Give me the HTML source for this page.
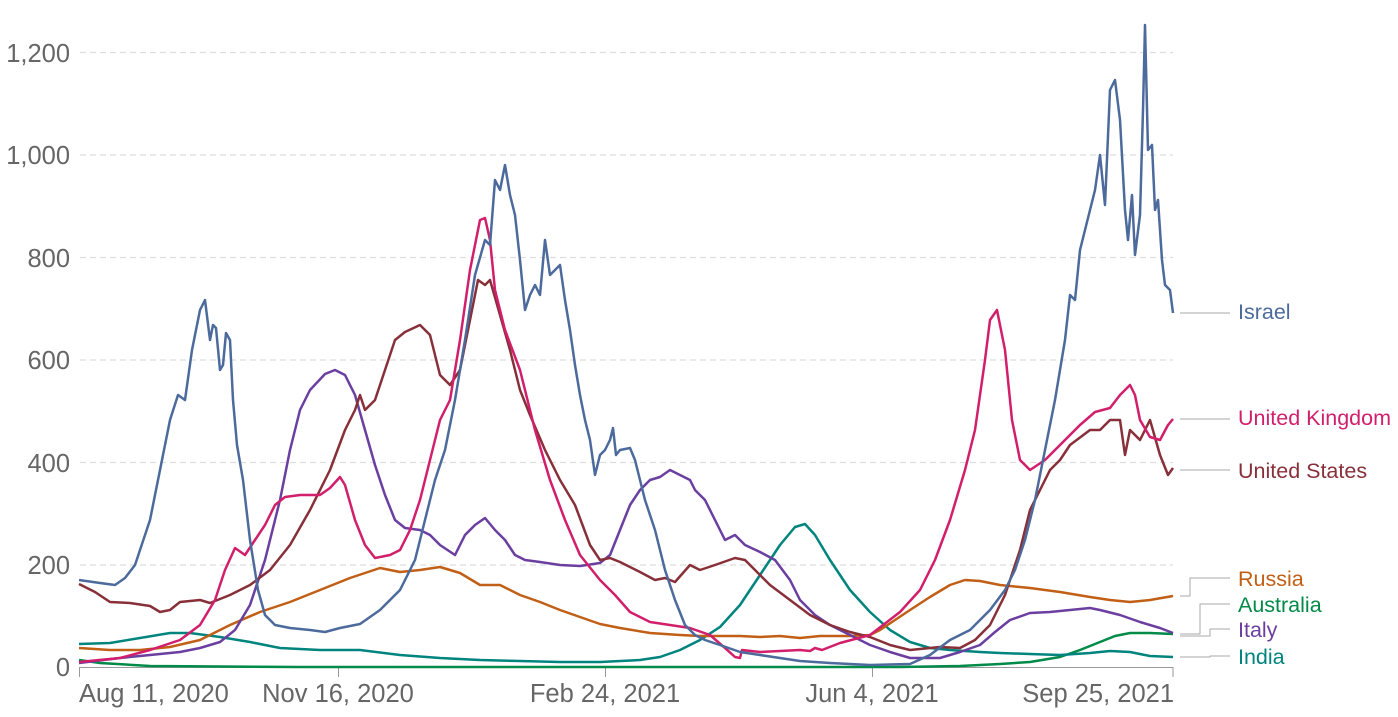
<!DOCTYPE html>
<html><head><meta charset="utf-8"><style>
html,body{margin:0;padding:0;background:#fff;width:1398px;height:717px;overflow:hidden}
svg{display:block;font-family:"Liberation Sans",sans-serif}
.yl{font-size:25.5px;fill:#666;text-anchor:end}
.xl{font-size:25.5px;fill:#666}
.lb{font-size:21.5px}
polyline{fill:none;stroke-width:2.5;stroke-linejoin:round}
.g{stroke:#ddd;stroke-width:1.2;stroke-dasharray:6,4}
.c{stroke:#aaa;stroke-width:1;fill:none}
</style></head><body>
<svg width="1398" height="717" viewBox="0 0 1398 717">
<g>
<line class="g" x1="80" x2="1173" y1="52.5" y2="52.5"/>
<line class="g" x1="80" x2="1173" y1="155" y2="155"/>
<line class="g" x1="80" x2="1173" y1="257.5" y2="257.5"/>
<line class="g" x1="80" x2="1173" y1="360" y2="360"/>
<line class="g" x1="80" x2="1173" y1="462.5" y2="462.5"/>
<line class="g" x1="80" x2="1173" y1="565" y2="565"/>
</g>
<text class="yl" x="70" y="62">1,200</text>
<text class="yl" x="70" y="164">1,000</text>
<text class="yl" x="70" y="267">800</text>
<text class="yl" x="70" y="369">600</text>
<text class="yl" x="70" y="472">400</text>
<text class="yl" x="70" y="574">200</text>
<text class="yl" x="70" y="676">0</text>
<line x1="79" x2="1173" y1="667.5" y2="667.5" stroke="#999" stroke-width="1"/>
<g stroke="#999" stroke-width="1">
<line x1="79.5" x2="79.5" y1="667" y2="677"/><line x1="338.5" x2="338.5" y1="667" y2="677"/>
<line x1="605.5" x2="605.5" y1="667" y2="677"/><line x1="872.5" x2="872.5" y1="667" y2="677"/>
<line x1="1173" x2="1173" y1="667" y2="677"/></g>
<text class="xl" x="79" y="702">Aug 11, 2020</text>
<text class="xl" x="338" y="702" text-anchor="middle">Nov 16, 2020</text>
<text class="xl" x="605" y="702" text-anchor="middle">Feb 24, 2021</text>
<text class="xl" x="872" y="702" text-anchor="middle">Jun 4, 2021</text>
<text class="xl" x="1174" y="702" text-anchor="end">Sep 25, 2021</text>

<polyline stroke="#018A48" points="79,660 100,663 150,666 300,667 700,667 900,667 960,666 1000,664 1030,662 1060,657 1080,650 1100,642 1115,636 1130,633 1150,633 1173,634"/>
<polyline stroke="#00847E" points="79,644 110,643 140,638 170,633 190,633 220,637 250,642 280,648 320,650 360,650 400,655 440,658 480,660 520,661 560,662 600,662 640,660 660,657 680,650 700,640 720,627 740,605 760,575 780,545 795,527 805,524 815,535 830,560 850,590 870,612 890,630 910,642 930,648 950,650 980,652 1000,653 1030,654 1060,655 1090,653 1110,651 1130,652 1150,656 1173,657"/>
<polyline stroke="#C15F16" points="79,648 110,650 140,650 170,647 200,640 230,625 260,612 290,602 320,590 350,578 380,568 400,572 420,570 440,567 460,573 480,585 500,585 520,595 540,602 560,610 580,617 600,624 620,628 650,633 680,635 700,636 740,636 760,637 780,636 800,638 820,636 850,636 870,635 880,630 895,620 910,610 930,597 950,585 965,580 980,581 1000,585 1030,588 1060,592 1090,597 1110,600 1130,602 1150,600 1173,596"/>
<polyline stroke="#6B3FA0" points="79,663 120,658 150,655 180,652 200,648 220,642 235,630 250,605 265,560 280,500 290,450 300,410 310,390 325,374 335,370 345,375 355,395 365,430 375,465 385,495 395,520 405,528 420,530 430,535 440,545 455,555 465,535 475,525 485,518 495,530 505,540 515,555 525,560 540,562 560,565 580,566 600,563 610,555 620,530 630,505 640,490 650,480 660,477 670,470 680,475 690,480 695,490 705,500 715,520 725,540 735,535 745,545 760,552 775,560 790,580 800,600 815,615 830,625 850,635 870,645 890,652 910,658 940,658 960,652 980,645 995,632 1010,620 1030,613 1050,612 1070,610 1090,608 1100,610 1120,615 1140,622 1160,628 1173,633"/>
<polyline stroke="#883039" points="79,584 95,592 110,602 130,603 150,606 160,612 170,610 180,602 200,600 210,603 230,595 250,585 270,570 290,545 310,510 330,470 345,430 355,410 360,395 365,410 375,400 385,370 395,340 405,332 420,325 430,335 440,375 450,385 460,370 470,320 478,280 485,285 490,280 500,315 510,350 520,390 530,415 545,450 560,480 575,505 590,545 600,560 610,558 620,562 640,572 655,580 665,578 675,582 690,565 700,570 715,565 735,558 745,560 755,570 770,585 790,600 810,615 830,625 850,632 870,637 890,645 910,650 940,647 960,648 975,640 990,625 1005,595 1020,550 1030,510 1040,490 1050,470 1060,460 1070,445 1090,430 1100,430 1110,420 1120,420 1125,455 1130,430 1140,440 1150,420 1160,455 1168,475 1173,468"/>
<polyline stroke="#D11F6C" points="79,662 120,658 150,650 180,640 200,625 215,600 225,570 235,548 245,555 255,540 265,525 275,505 285,497 300,495 320,495 330,488 340,477 345,485 355,520 365,545 375,558 390,555 400,550 410,530 420,500 430,460 440,420 450,400 460,340 470,270 480,220 485,218 490,240 495,290 505,330 520,370 535,430 550,480 565,520 580,555 600,580 615,595 630,612 650,622 670,625 690,628 710,635 725,648 735,657 740,658 742,650 760,652 780,651 800,650 810,651 815,648 822,650 840,643 870,635 900,612 920,590 935,560 950,520 965,470 975,430 985,360 990,320 997,310 1005,350 1012,420 1020,460 1030,470 1045,460 1060,445 1080,425 1095,412 1110,408 1120,395 1130,385 1135,395 1140,420 1150,437 1160,440 1168,425 1173,419"/>
<polyline stroke="#4C6A9C" points="79,580 100,583 115,585 125,578 135,565 150,520 160,470 170,420 178,395 185,400 192,350 200,310 205,300 210,340 213,325 216,328 220,370 223,365 226,333 230,340 233,400 237,445 243,480 250,540 258,590 265,615 275,625 290,628 310,630 325,632 340,628 360,624 380,610 400,590 415,560 425,520 435,480 445,450 455,400 465,340 475,275 485,240 490,245 495,180 500,190 505,165 510,195 515,215 520,260 525,310 530,295 535,285 540,295 545,240 550,275 555,270 560,265 565,300 570,330 575,365 580,395 585,420 590,440 595,475 600,455 605,450 610,440 613,428 616,455 620,450 630,448 635,460 645,500 655,530 665,570 675,600 685,625 695,635 705,640 720,645 740,652 760,655 780,658 800,661 830,663 870,665 910,664 930,655 950,640 970,630 990,610 1005,590 1015,570 1025,540 1035,500 1045,450 1055,400 1065,340 1070,295 1075,300 1080,250 1090,210 1095,190 1100,155 1105,205 1110,90 1115,80 1120,120 1125,210 1128,240 1132,195 1135,255 1140,215 1143,110 1145,25 1148,150 1152,145 1155,210 1158,200 1162,260 1165,285 1170,290 1173,313"/>

<g class="c">
<polyline class="c" points="1180,313 1230,313"/>
<polyline class="c" points="1180,419 1230,419"/>
<polyline class="c" points="1180,470 1230,470"/>
<polyline class="c" points="1180,596 1190,596 1190,578 1230,578"/>
<polyline class="c" points="1180,634 1200,634 1200,604 1230,604"/>
<polyline class="c" points="1180,636 1210,636 1210,629 1230,629"/>
<polyline class="c" points="1180,657 1210,657 1210,656 1230,656"/>
</g>
<text class="lb" x="1238" y="319" fill="#4C6A9C">Israel</text>
<text class="lb" x="1238" y="425" fill="#D11F6C">United Kingdom</text>
<text class="lb" x="1238" y="478" fill="#883039">United States</text>
<text class="lb" x="1238" y="586" fill="#C15F16">Russia</text>
<text class="lb" x="1238" y="612" fill="#018A48">Australia</text>
<text class="lb" x="1238" y="637" fill="#6B3FA0">Italy</text>
<text class="lb" x="1238" y="664" fill="#00847E">India</text>
</svg>
</body></html>
